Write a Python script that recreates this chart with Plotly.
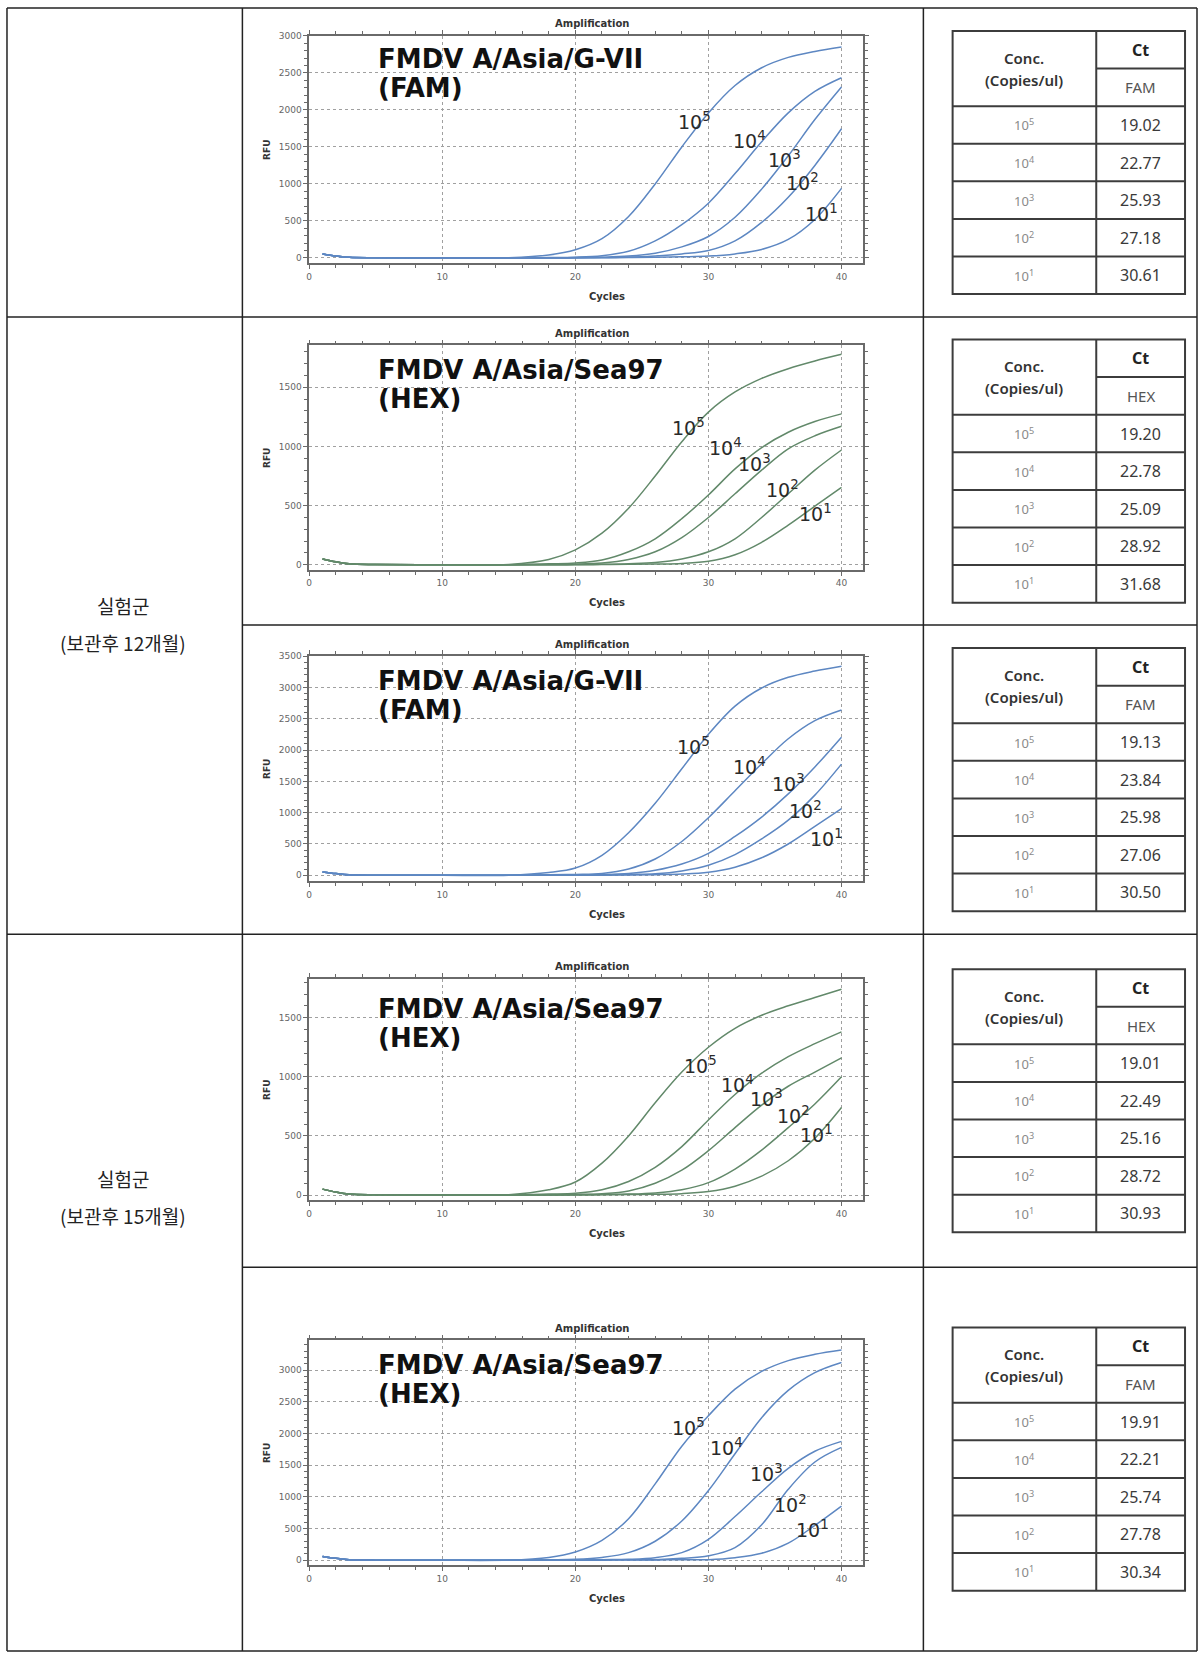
import plotly.graph_objects as go

W, H = 1198, 1654

# ---------------------------------------------------------------- data
CYCLES = [1, 2, 3, 5, 10, 15, 18, 20, 22, 24, 26, 28, 30, 32, 34, 36, 38, 40]
CONC = ["10<sup>5</sup>", "10<sup>4</sup>", "10<sup>3</sup>", "10<sup>2</sup>", "10<sup>1</sup>"]

# RFU per dilution (10^5 .. 10^1) at each entry of CYCLES
RFU_P1 = [
    [55, 28, 8, 2, 0, 3, 40, 110, 260, 560, 1000, 1500, 1960, 2330, 2570, 2710, 2790, 2850],
    [55, 28, 8, 2, 0, 0, 5, 10, 30, 90, 230, 450, 740, 1140, 1570, 1960, 2250, 2435],
    [55, 28, 8, 2, 0, 0, 2, 5, 10, 25, 65, 150, 290, 550, 930, 1380, 1870, 2310],
    [55, 28, 8, 2, 0, 0, 0, 2, 6, 12, 28, 55, 100, 230, 480, 820, 1250, 1745],
    [55, 28, 8, 2, 0, 0, 0, 0, 3, 5, 8, 15, 25, 55, 115, 250, 520, 940],
]
RFU_P2 = [
    [50, 25, 8, 2, 0, 3, 45, 126, 267, 478, 750, 1040, 1290, 1460, 1575, 1657, 1722, 1778],
    [50, 25, 8, 2, 0, 0, 8, 15, 40, 110, 220, 390, 590, 810, 990, 1120, 1210, 1275],
    [50, 25, 8, 2, 0, 0, 2, 5, 15, 45, 110, 230, 400, 600, 800, 980, 1090, 1170],
    [50, 25, 8, 2, 0, 0, 0, 2, 5, 10, 20, 50, 110, 220, 400, 600, 800, 970],
    [50, 25, 8, 2, 0, 0, 0, 0, 2, 4, 7, 12, 30, 85, 190, 335, 495, 655],
]
RFU_P3 = [
    [55, 28, 8, 2, 0, 3, 45, 116, 320, 680, 1150, 1700, 2250, 2700, 2990, 3160, 3260, 3337],
    [55, 28, 8, 2, 0, 0, 8, 15, 30, 100, 260, 540, 920, 1350, 1780, 2180, 2470, 2640],
    [55, 28, 8, 2, 0, 0, 2, 5, 12, 30, 80, 180, 350, 620, 930, 1300, 1730, 2205],
    [55, 28, 8, 2, 0, 0, 0, 2, 6, 15, 25, 70, 160, 330, 580, 880, 1280, 1775],
    [55, 28, 8, 2, 0, 0, 0, 0, 2, 5, 10, 20, 50, 130, 280, 500, 780, 1065],
]
RFU_P4 = [
    [50, 25, 8, 2, 0, 3, 45, 110, 270, 500, 780, 1040, 1250, 1410, 1520, 1600, 1670, 1740],
    [50, 25, 8, 2, 0, 0, 8, 15, 45, 115, 235, 410, 635, 850, 1030, 1170, 1280, 1380],
    [50, 25, 8, 2, 0, 0, 2, 5, 12, 35, 100, 210, 375, 570, 760, 920, 1040, 1160],
    [50, 25, 8, 2, 0, 0, 0, 2, 5, 8, 18, 45, 105, 220, 380, 570, 770, 1000],
    [50, 25, 8, 2, 0, 0, 0, 0, 2, 4, 6, 12, 30, 75, 160, 290, 480, 740],
]
RFU_P5 = [
    [60, 30, 8, 2, 0, 3, 45, 131, 314, 655, 1205, 1800, 2280, 2700, 2980, 3150, 3250, 3318],
    [60, 30, 8, 2, 0, 0, 8, 15, 45, 120, 300, 620, 1100, 1680, 2250, 2680, 2960, 3120],
    [60, 30, 8, 2, 0, 0, 2, 5, 10, 15, 40, 120, 330, 690, 1080, 1450, 1720, 1876],
    [60, 30, 8, 2, 0, 0, 0, 2, 5, 8, 10, 30, 70, 200, 560, 1120, 1550, 1780],
    [60, 30, 8, 2, 0, 0, 0, 0, 2, 4, 6, 8, 10, 40, 110, 270, 550, 855],
]

TARGETS = ["FMDV A/Asia/G-VII", "FMDV A/Asia/Sea97", "FMDV A/Asia/G-VII",
           "FMDV A/Asia/Sea97", "FMDV A/Asia/Sea97"]
DYES = ["(FAM)", "(HEX)", "(FAM)", "(HEX)", "(HEX)"]

CT_DYE = ["FAM", "HEX", "FAM", "HEX", "FAM"]
CT_P1 = [19.02, 22.77, 25.93, 27.18, 30.61]
CT_P2 = [19.20, 22.78, 25.09, 28.92, 31.68]
CT_P3 = [19.13, 23.84, 25.98, 27.06, 30.50]
CT_P4 = [19.01, 22.49, 25.16, 28.72, 30.93]
CT_P5 = [19.91, 22.21, 25.74, 27.78, 30.34]

GROUP_LABELS = [("실험군", "(보관후 12개월)"), ("실험군", "(보관후 15개월)")]

# ---------------------------------------------------------------- layout helpers
def fx(x):
    return x / W


def fy(y):
    return 1 - y / H


BLUE = "#5d87c2"
GREEN = "#62896a"

# per panel: frame top/bottom (px), y range, curve colour, table row span,
# offset of the target caption below the frame top, label anchors (cycle, rfu)
PANELS = [
    dict(rfu=RFU_P1, ct=CT_P1, top=31, bottom=259, yr=[-71, 3000], color=BLUE,
         row=(3, 313), cap=23,
         lab=[(27.6, 1856), (31.7, 1595), (34.3, 1340), (35.7, 1025), (37.1, 607)]),
    dict(rfu=RFU_P2, ct=CT_P2, top=341.5, bottom=566.5, yr=[-42, 1853], color=GREEN,
         row=(313, 622), cap=25,
         lab=[(27.1, 1160), (29.9, 992), (32.1, 863), (34.2, 638), (36.65, 436)]),
    dict(rfu=RFU_P3, ct=CT_P3, top=653, bottom=879, yr=[-96, 3500], color=BLUE,
         row=(622, 932), cap=25,
         lab=[(27.5, 2065), (31.7, 1747), (34.6, 1471), (35.9, 1046), (37.45, 595)]),
    dict(rfu=RFU_P4, ct=CT_P4, top=976.7, bottom=1199, yr=[-45, 1829], color=GREEN,
         row=(932, 1266), cap=30,
         lab=[(28.0, 1099), (30.8, 940), (33.0, 820), (35.0, 680), (36.7, 520)]),
    dict(rfu=RFU_P5, ct=CT_P5, top=1339.3, bottom=1565, yr=[-79, 3471], color=BLUE,
         row=(1266, 1651), cap=25,
         lab=[(27.1, 2098), (29.95, 1794), (33.0, 1374), (34.8, 892), (36.45, 498)]),
]

X_LEFT, X_RIGHT, X_MAX = 307.0, 862.6, 41.65
FRAME = "#6a6a6a"
TICK_FONT = dict(family="DejaVu Sans", size=9, color="#666666")


def note(text, x, y, size, color="#222222", family="Noto Sans", weight="normal",
         xanchor="center", xref="paper", yref="paper", **kw):
    return dict(text=text, x=x, y=y, xref=xref, yref=yref, xanchor=xanchor, yanchor="middle",
                showarrow=False, font=dict(family=family, size=size, color=color, weight=weight), **kw)


fig = go.Figure()
layout = dict(
    width=W, height=H, margin=dict(l=0, r=0, t=0, b=0),
    paper_bgcolor="white", plot_bgcolor="white", showlegend=False,
)
shapes = []
annotations = []

for i, p in enumerate(PANELS):
    n = "" if i == 0 else str(i + 1)
    xa, ya = "x" + n, "y" + n

    for series in p["rfu"]:
        fig.add_trace(go.Scatter(
            x=CYCLES, y=series, xaxis=xa, yaxis=ya, mode="lines",
            line=dict(color=p["color"], width=1.5, shape="spline", smoothing=1.0),
            hoverinfo="skip",
        ))

    common = dict(
        tickfont=TICK_FONT, showgrid=True, gridcolor="#a0a0a0", griddash="dot", gridwidth=1,
        showline=True, linecolor=FRAME, linewidth=1.5, mirror="allticks",
        ticks="outside", ticklen=4, tickcolor=FRAME, zeroline=False, fixedrange=True,
    )
    layout["xaxis" + n] = dict(
        domain=[fx(X_LEFT), fx(X_RIGHT)], range=[0, X_MAX], anchor=ya,
        tickvals=[0, 10, 20, 30, 40],
        minor=dict(dtick=2, ticks="outside", ticklen=3, tickcolor=FRAME, showgrid=False),
        **common,
    )
    layout["yaxis" + n] = dict(
        domain=[fy(p["bottom"]), fy(p["top"])], range=p["yr"], anchor=xa,
        tick0=0, dtick=500,
        minor=dict(dtick=100, ticks="outside", ticklen=3, tickcolor=FRAME, showgrid=False),
        **common,
    )

    mid = (p["top"] + p["bottom"]) / 2
    cap = p["cap"]
    annotations += [
        note("Amplification", fx(590), fy(p["top"] - 12), 10, "#333333", "DejaVu Sans", "bold"),
        note("Cycles", fx(606), fy(p["bottom"] + 33), 10, "#333333", "DejaVu Sans", "bold"),
        note("RFU", fx(264), fy(mid), 9, "#333333", "DejaVu Sans", "bold", textangle=-90),
        note(TARGETS[i], fx(374), fy(p["top"] + cap), 26, "#111111", "DejaVu Sans", "bold",
             xanchor="left"),
        note(DYES[i], fx(374), fy(p["top"] + cap + 29), 26, "#111111", "DejaVu Sans", "bold",
             xanchor="left"),
    ]
    for k, (cx, cy) in enumerate(p["lab"]):
        annotations.append(note(CONC[k], cx, cy, 19, "#2a2a2a", "DejaVu Sans",
                                xanchor="left", xref=xa, yref=ya))

    # Ct table for this panel
    r0, r1 = p["row"]
    rh = 37.7
    t_top = (r0 + r1) / 2 - 3.5 * rh
    tl, tm, tr = 952, 1096, 1185
    tb = t_top + 7 * rh
    line = dict(color="#3c3c3c", width=2)
    shapes.append(dict(type="rect", xref="paper", yref="paper",
                       x0=fx(tl), x1=fx(tr), y0=fy(tb), y1=fy(t_top), line=line))
    shapes.append(dict(type="line", xref="paper", yref="paper",
                       x0=fx(tm), x1=fx(tm), y0=fy(tb), y1=fy(t_top), line=line))
    shapes.append(dict(type="line", xref="paper", yref="paper",
                       x0=fx(tm), x1=fx(tr), y0=fy(t_top + rh), y1=fy(t_top + rh), line=line))
    for j in range(2, 7):
        yy = t_top + j * rh
        shapes.append(dict(type="line", xref="paper", yref="paper",
                           x0=fx(tl), x1=fx(tr), y0=fy(yy), y1=fy(yy), line=line))
    cl, cr = fx((tl + tm) / 2), fx((tm + tr) / 2)
    annotations += [
        note("Conc.", cl, fy(t_top + 27), 15, "#333333", weight=600),
        note("(Copies/ul)", cl, fy(t_top + 49), 15, "#333333", weight=600),
        note("Ct", cr, fy(t_top + rh / 2), 16, "#222222", weight="bold"),
        note(CT_DYE[i], cr, fy(t_top + 1.5 * rh), 15, "#555555"),
    ]
    for k, v in enumerate(p["ct"]):
        yy = t_top + (2.5 + k) * rh
        annotations += [
            note(CONC[k], cl, fy(yy), 13, "#8a8a8a"),
            note(f"{v:.2f}", cr, fy(yy), 16, "#3a3a3a"),
        ]

# ---------------------------------------------------------------- outer grid
GRID = dict(color="#222222", width=1.5)
for y0, xa0 in [(3, 4), (313, 4), (622, 240), (932, 4), (1266, 240), (1651, 4)]:
    shapes.append(dict(type="line", xref="paper", yref="paper",
                       x0=fx(xa0), x1=fx(1197), y0=fy(y0), y1=fy(y0), line=GRID))
for x0 in [4, 240, 922.7, 1197]:
    shapes.append(dict(type="line", xref="paper", yref="paper",
                       x0=fx(x0), x1=fx(x0), y0=fy(1651), y1=fy(3), line=GRID))

for (l1, l2), yc in zip(GROUP_LABELS, [621, 1196]):
    annotations += [
        note(l1, fx(120), fy(yc - 18.5), 19, "#222222", "Noto Sans CJK KR"),
        note(l2, fx(120), fy(yc + 18.5), 19, "#222222", "Noto Sans CJK KR"),
    ]

layout["shapes"] = shapes
layout["annotations"] = annotations
fig.update_layout(**layout)
fig.write_html("out.html")
